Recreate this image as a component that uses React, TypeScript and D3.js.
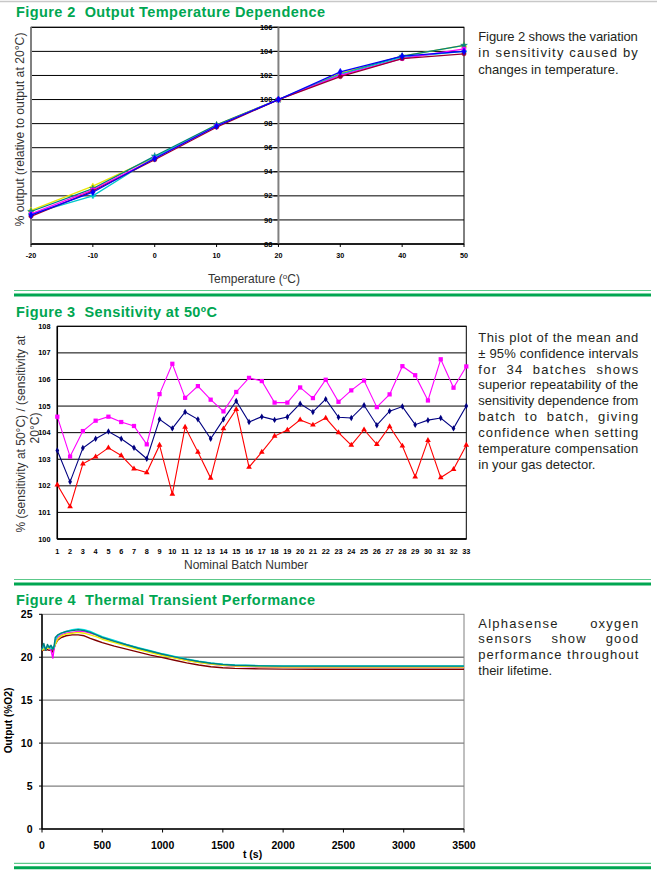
import React from 'react';
import * as d3 from 'd3';

// ---------- Figure 2 data ----------
const fig2Temps = [-20, -10, 0, 10, 20, 30, 40, 50];
const fig2Yellow = [90.8, 92.8, 95.2, 97.9, 100, 102.2, 103.6, 104.5];
const fig2Teal = [90.7, 92.6, 95.3, 97.9, 100, 102.1, 103.6, 104.5];
const fig2Cyan = [90.5, 92.0, 95.2, 97.8, 100, 102.1, 103.5, 104.0];
const fig2Magenta = [90.5, 92.5, 95.1, 97.8, 100, 102.0, 103.4, 104.2];
const fig2DarkRed = [90.3, 92.4, 95.0, 97.7, 100, 101.9, 103.4, 103.8];
const fig2Blue = [90.4, 92.3, 95.1, 97.8, 100, 102.3, 103.6, 104.0];
const fig2YTicks = [88, 90, 92, 94, 96, 98, 100, 102, 104, 106];
const fig2XTicks = [-20, -10, 0, 10, 20, 30, 40, 50];

// ---------- Figure 3 data ----------
const fig3Batches = d3.range(1, 34);
const fig3Upper = [104.6, 103.1, 104.06, 104.45, 104.6, 104.4, 104.25, 103.56, 105.45, 106.59, 105.31, 105.75, 105.24, 104.8, 105.53, 106.06, 105.94, 105.13, 105.13, 105.7, 105.3, 105.99, 105.16, 105.59, 105.96, 104.96, 105.44, 106.5, 106.16, 105.21, 106.76, 105.69, 106.49];
const fig3Mean = [103.33, 102.15, 103.42, 103.77, 104.04, 103.77, 103.43, 103.02, 104.5, 104.16, 104.78, 104.5, 103.77, 104.5, 105.19, 104.4, 104.6, 104.48, 104.59, 105.09, 104.78, 105.26, 104.58, 104.55, 105.03, 104.28, 104.81, 104.98, 104.3, 104.47, 104.55, 104.16, 105.0];
const fig3Lower = [102.04, 101.22, 102.83, 103.09, 103.43, 103.14, 102.64, 102.5, 103.53, 101.69, 104.21, 103.27, 102.29, 104.15, 104.88, 102.7, 103.27, 103.87, 104.1, 104.48, 104.29, 104.55, 104.0, 103.53, 104.11, 103.56, 104.23, 103.5, 102.34, 103.71, 102.31, 102.62, 103.53];
const fig3YTicks = [100, 101, 102, 103, 104, 105, 106, 107, 108];

// ---------- Figure 4 data ----------
const fig4Times = [0, 15, 30, 45, 60, 75, 90, 100, 110, 130, 160, 200, 250, 300, 350, 400, 450, 500, 600, 700, 800, 900, 1000, 1100, 1200, 1300, 1400, 1500, 1600, 1800, 2000, 2300, 2600, 3000, 3500];
const fig4Teal = [21.0, 21.6, 20.8, 21.5, 21.1, 21.4, 20.9, 21.3, 22.3, 22.6, 22.8, 23.0, 23.1, 23.2, 23.1, 22.9, 22.6, 22.3, 21.85, 21.45, 21.05, 20.7, 20.35, 20.05, 19.75, 19.5, 19.3, 19.15, 19.07, 19.0, 18.97, 18.97, 18.96, 18.96, 18.96];
const fig4Cyan = [20.9, 21.4, 21.0, 21.2, 21.3, 21.0, 21.2, 21.1, 22.0, 22.5, 22.8, 23.0, 23.2, 23.3, 23.2, 23.0, 22.7, 22.4, 21.95, 21.5, 21.1, 20.75, 20.4, 20.1, 19.8, 19.55, 19.35, 19.2, 19.1, 19.02, 19.0, 19.0, 18.98, 18.98, 18.98];
const fig4Yellow = [20.8, 21.0, 20.9, 21.1, 21.0, 21.1, 21.0, 21.2, 21.5, 22.1, 22.5, 22.7, 22.8, 22.9, 22.8, 22.6, 22.4, 22.1, 21.7, 21.3, 20.9, 20.55, 20.2, 19.9, 19.6, 19.38, 19.2, 19.05, 18.97, 18.9, 18.87, 18.86, 18.86, 18.86, 18.86];
const fig4Magenta = [21.0, 21.3, 20.9, 21.2, 21.0, 20.8, 19.9, 21.0, 21.8, 22.3, 22.6, 22.8, 22.9, 23.0, 23.0, 22.8, 22.6, 22.3, 21.9, 21.45, 21.05, 20.65, 20.3, 19.95, 19.65, 19.4, 19.2, 19.05, 18.95, 18.87, 18.83, 18.82, 18.82, 18.82, 18.82];
const fig4DarkRed = [20.7, 20.9, 20.8, 20.9, 20.8, 20.9, 20.6, 21.0, 21.5, 22.0, 22.3, 22.5, 22.6, 22.6, 22.5, 22.2, 21.95, 21.7, 21.3, 20.95, 20.6, 20.25, 19.95, 19.65, 19.35, 19.1, 18.9, 18.78, 18.7, 18.65, 18.62, 18.6, 18.6, 18.6, 18.6];
const fig4YTicks = [0, 5, 10, 15, 20, 25];
const fig4XTicks = [0, 500, 1000, 1500, 2000, 2500, 3000, 3500];

// ---------- Texts ----------
const fig2Para = ['Figure 2 shows the variation', 'in sensitivity caused by', 'changes in temperature.'];
const fig3Para = ['This plot of the mean and', '\u00b1 95% confidence intervals', 'for 34 batches shows', 'superior repeatability of the', 'sensitivity dependence from', 'batch to batch, giving', 'confidence when setting', 'temperature compensation', 'in your gas detector.'];
const fig4Para = ['Alphasense oxygen', 'sensors show good', 'performance throughout', 'their lifetime.'];

const GREEN = '#00a651';
const FONT = "'Liberation Sans', Arial, sans-serif";
const TXT = '#231f20';

let _ctx: CanvasRenderingContext2D | null = null;
function measure(text: string, font: string): number {
  if (!_ctx) _ctx = document.createElement('canvas').getContext('2d');
  if (!_ctx) return text.length * 6;
  _ctx.font = font;
  return _ctx.measureText(text).width;
}

function Para({ x, y0, lh, width, lines }: { x: number; y0: number; lh: number; width: number; lines: string[] }) {
  const fs = 13;
  const font = `${fs}px 'Liberation Sans'`;
  const out: any[] = [];
  lines.forEach((line, i) => {
    const y = y0 + i * lh;
    if (i === lines.length - 1) {
      out.push(<text key={`l${i}`} x={x} y={y}>{line}</text>);
      return;
    }
    const words = line.split(' ');
    const nat = words.map((w) => measure(w, font));
    const spaceW = measure(' ', font);
    const sumNat = d3.sum(nat);
    let ls = (width - sumNat - (words.length - 1) * spaceW) / (line.length - 1);
    ls = Math.min(ls, 1.25);
    const ww = words.map((w, k) => nat[k] + ls * (w.length - 1));
    const gap = (width - d3.sum(ww)) / Math.max(1, words.length - 1);
    let cx = x;
    words.forEach((w, k) => {
      out.push(
        <text key={`l${i}w${k}`} x={cx} y={y} style={{ letterSpacing: `${ls}px` }}>{w}</text>
      );
      cx += ww[k] + gap;
    });
  });
  return <g fontFamily={FONT} fontSize={13} fill={TXT}>{out}</g>;
}

function Separator({ y }: { y: number }) {
  return (
    <g>
      <line x1={14} x2={651} y1={y} y2={y} stroke="#5cc98a" strokeWidth={1.2} />
      <line x1={14} x2={651} y1={y + 4.5} y2={y + 4.5} stroke={GREEN} strokeWidth={3} />
    </g>
  );
}

function Title({ x, y, text, width }: { x: number; y: number; text: string; width: number }) {
  return (
    <text x={x} y={y} fontFamily={FONT} fontWeight="bold" fontSize={14.5} fill={GREEN}
      textLength={width} lengthAdjust="spacing" style={{ whiteSpace: 'pre' }}>{text}</text>
  );
}

function Figure2() {
  const x = d3.scaleLinear().domain([-20, 50]).range([31, 464]);
  const y = d3.scaleLinear().domain([88, 106]).range([244, 27.3]);
  const line = d3.line<number>().x((_, i) => x(fig2Temps[i])).y((d) => y(d));
  const series = [
    { v: fig2Yellow, c: '#e8e800', s: d3.symbolTriangle },
    { v: fig2Teal, c: '#008080', s: d3.symbolStar },
    { v: fig2Cyan, c: '#00c8c8', s: d3.symbolCross },
    { v: fig2Magenta, c: '#ff00ff', s: d3.symbolSquare },
    { v: fig2DarkRed, c: '#990033', s: d3.symbolCircle },
    { v: fig2Blue, c: '#0000ff', s: d3.symbolDiamond },
  ];
  const ax = x(20);
  return (
    <g>
      <rect x={31} y={27.3} width={433} height={216.7} fill="#fff" stroke="#000" strokeWidth={1} />
      {fig2YTicks.map((t) => (
        <text key={`yl${t}`} x={ax - 6} y={y(t) + 2.6} textAnchor="end" fontFamily={FONT} fontWeight="bold" fontSize={7.5} fill="#000">{t}</text>
      ))}
      {fig2YTicks.map((t) => (
        <g key={`g${t}`}>
          <line x1={31} x2={464} y1={y(t)} y2={y(t)} stroke="#000" strokeWidth={1} />
          <line x1={ax - 5} x2={ax} y1={y(t)} y2={y(t)} stroke="#000" strokeWidth={1} />
        </g>
      ))}
      <line x1={31} x2={31} y1={27.3} y2={244} stroke="#808080" strokeWidth={2} />
      <line x1={ax} x2={ax} y1={27.3} y2={244} stroke="#808080" strokeWidth={2} />
      <line x1={31} x2={464} y1={244} y2={244} stroke="#000" strokeWidth={1.2} />
      {fig2XTicks.map((t) => (
        <g key={`xt${t}`}>
          <line x1={x(t)} x2={x(t)} y1={244} y2={247} stroke="#000" />
          <text x={x(t)} y={257.5} textAnchor="middle" fontFamily={FONT} fontWeight="bold" fontSize={7.2} fill="#000">{t}</text>
        </g>
      ))}
      {series.map((s, i) => (
        <g key={`s${i}`}>
          <path d={line(s.v) || ''} fill="none" stroke={s.c} strokeWidth={1.3} />
          {s.v.map((v, k) => (
            <path key={k} d={d3.symbol().type(s.s).size(14)() || ''} transform={`translate(${x(fig2Temps[k])},${y(v)})`} fill={s.c} stroke={s.c} strokeWidth={0.5} />
          ))}
        </g>
      ))}
      <text x={254} y={283} textAnchor="middle" fontFamily={FONT} fontSize={12} fill="#333">
        Temperature (<tspan fontSize={8} dy={-4}>o</tspan><tspan dy={4}>C)</tspan>
      </text>
      <text transform="translate(23.5,129.5) rotate(-90)" textAnchor="middle" fontFamily={FONT} fontSize={12.2} fill="#333">
        % output (relative to output at 20°C)
      </text>
    </g>
  );
}

function Figure3() {
  const x = d3.scaleLinear().domain([1, 33]).range([57.3, 466.3]);
  const y = d3.scaleLinear().domain([100, 108]).range([539, 326.3]);
  const line = d3.line<number>().x((_, i) => x(fig3Batches[i])).y((d) => y(d));
  const series = [
    { v: fig3Upper, c: '#ff00ff', s: d3.symbolSquare, sz: 18 },
    { v: fig3Lower, c: '#ff0000', s: d3.symbolTriangle, sz: 14 },
    { v: fig3Mean, c: '#000080', s: d3.symbolDiamond, sz: 12 },
  ];
  return (
    <g>
      <rect x={57.3} y={326.3} width={409} height={212.7} fill="#fff" stroke="#000" strokeWidth={1} />
      {fig3YTicks.map((t) => (
        <g key={`g${t}`}>
          <line x1={57.3} x2={466.3} y1={y(t)} y2={y(t)} stroke="#000" strokeWidth={1} />
          <text x={50.5} y={y(t) + 2.6} textAnchor="end" fontFamily={FONT} fontWeight="bold" fontSize={7.3} fill="#000">{t}</text>
        </g>
      ))}
      <line x1={57.3} x2={57.3} y1={326.3} y2={539} stroke="#000" strokeWidth={1.5} />
      <line x1={57.3} x2={466.3} y1={539} y2={539} stroke="#000" strokeWidth={1.5} />
      {fig3Batches.map((b) => (
        <text key={`xl${b}`} x={x(b)} y={554} textAnchor="middle" fontFamily={FONT} fontWeight="bold" fontSize={7.3} fill="#000">{b}</text>
      ))}
      {series.map((s, i) => (
        <g key={`s${i}`}>
          <path d={line(s.v) || ''} fill="none" stroke={s.c} strokeWidth={1.1} />
          {s.v.map((v, k) => (
            <path key={k} d={d3.symbol().type(s.s).size(s.sz)() || ''} transform={`translate(${x(fig3Batches[k])},${y(v)})`} fill={s.c} />
          ))}
        </g>
      ))}
      <text x={246} y={568.5} textAnchor="middle" fontFamily={FONT} fontSize={12} fill="#333">Nominal Batch Number</text>
      <text transform="translate(25,434) rotate(-90)" textAnchor="middle" fontFamily={FONT} fontSize={12} fill="#333">
        % (sensitivity at 50°C) / (sensitivity at
      </text>
      <text transform="translate(39,428) rotate(-90)" textAnchor="middle" fontFamily={FONT} fontSize={12} fill="#333">
        20°C)
      </text>
    </g>
  );
}

function Figure4() {
  const x = d3.scaleLinear().domain([0, 3500]).range([42, 464]);
  const y = d3.scaleLinear().domain([0, 25]).range([829, 614.3]);
  const line = d3.line<number>().x((_, i) => x(fig4Times[i])).y((d) => y(d));
  const series = [
    { v: fig4DarkRed, c: '#800000' },
    { v: fig4Magenta, c: '#ff00ff' },
    { v: fig4Yellow, c: '#f0f000' },
    { v: fig4Cyan, c: '#00e0e0' },
    { v: fig4Teal, c: '#008080' },
  ];
  return (
    <g>
      <rect x={42} y={614.3} width={422} height={214.7} fill="#fff" stroke="#808080" strokeWidth={1} />
      {fig4YTicks.filter((t) => t > 0 && t < 25).map((t) => (
        <line key={`g${t}`} x1={42} x2={464} y1={y(t)} y2={y(t)} stroke="#808080" strokeWidth={1.3} />
      ))}
      <line x1={42} x2={42} y1={614.3} y2={829} stroke="#000" strokeWidth={1.5} />
      <line x1={42} x2={464} y1={829} y2={829} stroke="#000" strokeWidth={1.5} />
      {fig4YTicks.map((t) => (
        <g key={`yl${t}`}>
          <line x1={39} x2={42} y1={y(t)} y2={y(t)} stroke="#000" />
          <text x={32.5} y={y(t) + 3.8} textAnchor="end" fontFamily={FONT} fontWeight="bold" fontSize={10.5} fill="#000">{t}</text>
        </g>
      ))}
      {fig4XTicks.map((t) => (
        <g key={`xl${t}`}>
          <line x1={x(t)} x2={x(t)} y1={829} y2={832.5} stroke="#000" />
          <text x={x(t)} y={849} textAnchor="middle" fontFamily={FONT} fontWeight="bold" fontSize={10.5} fill="#000">{t}</text>
        </g>
      ))}
      {series.map((s, i) => (
        <path key={`s${i}`} d={line(s.v) || ''} fill="none" stroke={s.c} strokeWidth={1.4} strokeLinejoin="round" />
      ))}
      <text x={252.5} y={857.5} textAnchor="middle" fontFamily={FONT} fontWeight="bold" fontSize={10.5} fill="#000">t (s)</text>
      <text transform="translate(11.5,720.5) rotate(-90)" textAnchor="middle" fontFamily={FONT} fontWeight="bold" fontSize={10.2} fill="#000">Output (%O2)</text>
    </g>
  );
}

export default function App() {
  return (
    <svg width={657} height={881} viewBox="0 0 657 881" style={{ position: 'absolute', left: 0, top: 0, background: '#fff' }}>
      <rect x={0} y={0} width={657} height={881} fill="#fff" />
      <line x1={0} x2={657} y1={1.5} y2={1.5} stroke="#c8c8c8" strokeWidth={1.5} />
      <Title x={16} y={17.2} text={'Figure 2  Output Temperature Dependence'} width={309} />
      <Figure2 />
      <Para x={478.3} y0={40.5} lh={16.6} width={159.5} lines={fig2Para} />
      <Separator y={290.5} />
      <Title x={16} y={316.8} text={'Figure 3  Sensitivity at 50\u00baC'} width={201} />
      <Figure3 />
      <Para x={478.3} y0={341.8} lh={15.87} width={160} lines={fig3Para} />
      <Separator y={579.5} />
      <Title x={16} y={604.8} text={'Figure 4  Thermal Transient Performance'} width={299} />
      <Figure4 />
      <Para x={478.3} y0={627.8} lh={15.6} width={160} lines={fig4Para} />
      <Separator y={863.3} />
    </svg>
  );
}
